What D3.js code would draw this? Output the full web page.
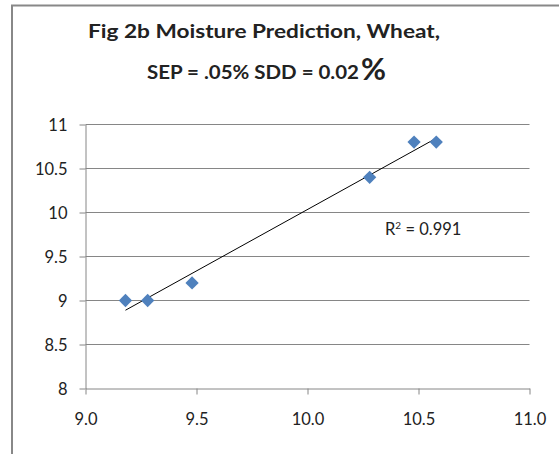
<!DOCTYPE html>
<html>
<head>
<meta charset="utf-8">
<script src="https://cdn.jsdelivr.net/npm/d3@7"></script>
<style>
  body { margin: 0; background: #fff; }
  svg { display: block; }
  text { font-family: Lato, "Open Sans", sans-serif; fill: #222; }
</style>
</head>
<body>
<svg id="chart" width="559" height="454"></svg>
<script>
// data
var xValues = [9.18, 9.28, 9.48, 10.28, 10.48, 10.58];
var yValues = [9.0, 9.0, 9.2, 10.4, 10.8, 10.8];
var xTicks = [9.0, 9.5, 10.0, 10.5, 11.0];
var yTicks = [8, 8.5, 9, 9.5, 10, 10.5, 11];
var titleLine1 = "Fig 2b Moisture Prediction, Wheat,";
var titleLine2 = "SEP = .05% SDD = 0.02";
var rLabel = "0.991";

var svg = d3.select("#chart");

// outer chart border (only top and left show in the frame)
svg.append("rect")
    .attr("x", 12)
    .attr("y", 5.5)
    .attr("width", 600)
    .attr("height", 600)
    .attr("fill", "none")
    .attr("stroke", "#888")
    .attr("stroke-width", 2);

var scaleX = d3.scaleLinear().domain([9, 11]).range([85.5, 529.5]);
var scaleY = d3.scaleLinear().domain([8, 11]).range([388.5, 124.5]);

// gridlines
svg.append("g")
    .selectAll("line")
    .data(yTicks.filter(function(d) { return d > 8; }))
    .enter()
    .append("line")
        .attr("x1", scaleX(9))
        .attr("x2", scaleX(11))
        .attr("y1", function(d) { return scaleY(d); })
        .attr("y2", function(d) { return scaleY(d); })
        .attr("stroke", "#868686");

// axes
var xAxis = d3.axisBottom(scaleX)
    .tickValues(xTicks)
    .tickFormat(d3.format(".1f"))
    .tickSize(6)
    .tickSizeOuter(0)
    .tickPadding(19);
var yAxis = d3.axisLeft(scaleY)
    .tickValues(yTicks)
    .tickFormat(function(d) { return String(d); })
    .tickSize(6)
    .tickSizeOuter(0)
    .tickPadding(12);

var xObj = svg.append("g")
    .attr("transform", "translate(0," + scaleY(8) + ")")
    .call(xAxis);
var yObj = svg.append("g")
    .attr("transform", "translate(" + scaleX(9) + ",0)")
    .call(yAxis);

[xObj, yObj].forEach(function(ax) {
    ax.select(".domain").attr("stroke", "#868686");
    ax.selectAll(".tick line").attr("stroke", "#868686");
    ax.selectAll(".tick text")
        .attr("fill", "#262626")
        .style("font-family", "Lato, sans-serif")
        .style("font-size", "16.5px");
});
yObj.selectAll(".tick text").attr("dy", "0.35em");

// trendline (least squares through the points)
var mx = d3.mean(xValues), my = d3.mean(yValues);
var sxy = d3.sum(xValues, function(x, i) { return (x - mx) * (yValues[i] - my); });
var sxx = d3.sum(xValues, function(x) { return (x - mx) * (x - mx); });
var slope = sxy / sxx, icpt = my - slope * mx;
var xMin = d3.min(xValues), xMax = d3.max(xValues);

svg.append("line")
    .attr("x1", scaleX(xMin))
    .attr("y1", scaleY(icpt + slope * xMin))
    .attr("x2", scaleX(xMax))
    .attr("y2", scaleY(icpt + slope * xMax))
    .attr("stroke", "#000")
    .attr("stroke-width", 1);

// diamond markers
var diamond = d3.symbol().type(d3.symbolSquare).size(88);
svg.append("g")
    .selectAll("path")
    .data(xValues)
    .enter()
    .append("path")
        .attr("d", diamond)
        .attr("transform", function(d, i) {
            return "translate(" + scaleX(d) + "," + scaleY(yValues[i]) + ") rotate(45)";
        })
        .attr("fill", "#4f81bd");

// R squared label
var rText = svg.append("text")
    .attr("x", 385)
    .attr("y", 235)
    .attr("fill", "#262626")
    .style("font-size", "16.5px");
rText.append("tspan").text("R");
rText.append("tspan").attr("dy", -6).style("font-size", "10px").text("2");
rText.append("tspan").attr("dy", 6).text(" = " + rLabel);

// title
svg.append("text")
    .attr("x", 88)
    .attr("y", 38)
    .attr("textLength", 352)
    .attr("lengthAdjust", "spacingAndGlyphs")
    .style("font-size", "18px")
    .style("font-weight", "bold")
    .text(titleLine1);

svg.append("text")
    .attr("x", 147)
    .attr("y", 78.5)
    .attr("textLength", 212)
    .attr("lengthAdjust", "spacingAndGlyphs")
    .style("font-size", "18px")
    .style("font-weight", "bold")
    .text(titleLine2);

svg.append("text")
    .attr("x", 361)
    .attr("y", 80)
    .attr("textLength", 25)
    .attr("lengthAdjust", "spacingAndGlyphs")
    .style("font-size", "30px")
    .style("font-weight", "bold")
    .text("%");
</script>
</body>
</html>
